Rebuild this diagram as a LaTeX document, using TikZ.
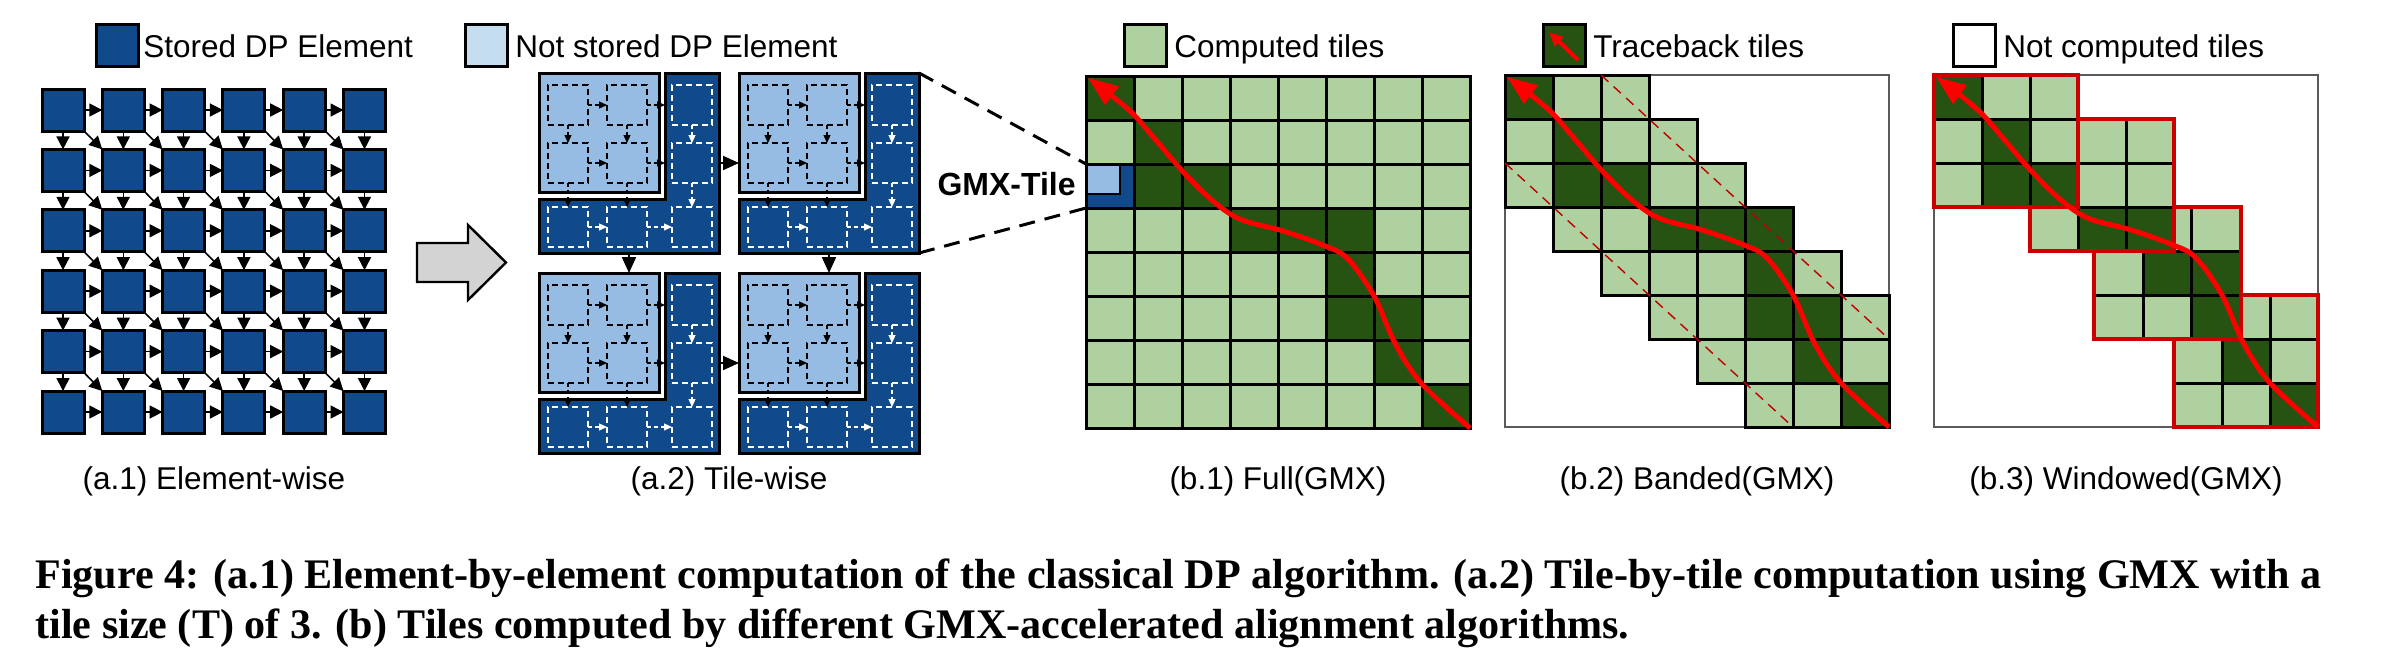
\documentclass[tikz,border=0pt]{standalone}
\usepackage{graphicx}
\usepackage{fontspec}
\setmainfont{Liberation Sans}
\newfontfamily\capfont{Liberation Serif}
\usetikzlibrary{arrows.meta}
\definecolor{dpblue}{RGB}{16,74,138}
\definecolor{tilelight}{RGB}{150,188,227}
\definecolor{legendlight}{RGB}{197,221,241}
\definecolor{lgreen}{RGB}{174,209,159}
\definecolor{dgreen}{RGB}{38,82,18}
\definecolor{winred}{RGB}{204,0,0}
\definecolor{bandred}{RGB}{192,0,0}
\definecolor{arrowgray}{RGB}{211,211,211}
\definecolor{framegray}{RGB}{90,90,90}

\newcommand\gmxtile[3]{%
\begin{scope}[shift={(#1,#2)}]
  \draw[fill=dpblue, line width=1.5pt] (126,0) -- (180,0) -- (180,180) -- (0,180) -- (0,126) -- (126,126) -- cycle;
  \node[lightbox] (#3) at (60,59.5) {};
  \coordinate (#3-L) at (0,90);
  \coordinate (#3-R) at (180,90);
  \coordinate (#3-T) at (90,0);
  \coordinate (#3-B) at (90,180);
  \coordinate (#3-NE) at (180,0);
  \coordinate (#3-SE) at (180,180);
  \foreach \c/\r/\cx/\cy/\col in {0/0/29/32/black, 1/0/88/32/black, 0/1/29/90/black, 1/1/88/90/black,
      2/0/153/32/white, 2/1/153/90/white, 0/2/29/154/white, 1/2/88/154/white, 2/2/153/154/white}
    {\node[tileel, draw=\col] (#3-\c-\r) at (\cx,\cy) {};}
  \draw[tarrow] (#3-0-0.east) -- (#3-1-0.west);
  \draw[tarrow] (#3-0-1.east) -- (#3-1-1.west);
  \draw[tarrow, shorten >=3.5pt] (#3-1-0.east) -- (#3-2-0.west);
  \draw[tarrow, shorten >=3.5pt] (#3-1-1.east) -- (#3-2-1.west);
  \draw[tarrow] (#3-0-0.south) -- (#3-0-1.north);
  \draw[tarrow] (#3-1-0.south) -- (#3-1-1.north);
  \draw[tarrow] (#3-0-1.south) -- (#3-0-2.north);
  \draw[tarrow] (#3-1-1.south) -- (#3-1-2.north);
  \draw[tarrow, white] (#3-2-0.south) -- (#3-2-1.north);
  \draw[tarrow, white] (#3-2-1.south) -- (#3-2-2.north);
  \draw[tarrow, white] (#3-0-2.east) -- (#3-1-2.west);
  \draw[tarrow, white] (#3-1-2.east) -- (#3-2-2.west);
\end{scope}}

\newcommand\tbcurve{%
  \draw[tbline] plot[smooth, tension=0.55] coordinates {(8,8) (7.0,7.0) (6.45,6.1) (6.0,5.0) (5.45,4.15) (4.95,3.85) (4.1,3.52) (3.2,3.25) (2.6,2.8) (2.0,2.15) (1.45,1.45) (0.9,0.78) (0.04,0.04)};}

\newcommand\drawwin[4]{%
  \fill[lgreen] (#1,#2) rectangle ++({3*#3},3);
  \foreach \a/\b in {#4} {\fill[dgreen] ({#1+\a*#3},{#2+\b}) rectangle ++(#3,1);}
  \foreach \k in {1,2} {\draw[line width=1.5pt] ({#1+\k*#3},#2) -- ++(0,3);
                        \draw[line width=1.5pt] (#1,{#2+\k}) -- ++({3*#3},0);}
  \draw[winred, line width=2pt] (#1,#2) rectangle ++({3*#3},3);}

\begin{document}
\begin{tikzpicture}[x=0.5pt, y=-0.5pt,
  elem/.style={rectangle, draw=black, line width=1.5pt, fill=dpblue, minimum size=21pt, inner sep=0pt, outer sep=0pt},
  elarrow/.style={line width=0.8pt, -{Triangle[length=6.5pt,width=6.5pt]}},
  legbox/.style={rectangle, draw=black, line width=1.5pt, minimum size=21pt, inner sep=0pt, outer sep=0pt},
  legtext/.style={anchor=base west, inner sep=0pt, font=\fontsize{15.75}{18}\selectfont},
  subcap/.style={anchor=base, inner sep=0pt, font=\fontsize{15.75}{18}\selectfont},
  lightbox/.style={rectangle, draw=black, line width=1.5pt, fill=tilelight, minimum width=60pt, minimum height=59.5pt, inner sep=0pt, outer sep=0pt},
  tileel/.style={rectangle, line width=0.7pt, dash pattern=on 3pt off 2pt, minimum size=20pt, inner sep=0pt, outer sep=0pt},
  tarrow/.style={line width=0.6pt, dash pattern=on 2pt off 1.5pt, -{Triangle[length=4pt,width=3.5pt]}},
  tilearrow/.style={line width=1pt, -{Triangle[length=8pt,width=7pt]}},
  zoomline/.style={line width=1.5pt, dash pattern=on 8pt off 5pt},
  cellline/.style={line width=1.5pt, line cap=rect},
  tbline/.style={red, line width=2.5pt, -{Triangle[length=15pt,width=11pt]}},
  bandline/.style={bandred, line width=0.7pt, dash pattern=on 5pt off 3.5pt},
  frame/.style={framegray, line width=0.8pt}
]
\useasboundingbox (0,0) rectangle (2394,660);

% ---------- legends ----------
\node[legbox, fill=dpblue] (leg1) at (117.5,45) {};
\node[legtext] (leg1t) at (143,57) {Stored DP Element};
\node[legbox, fill=legendlight] (leg2) at (486,45) {};
\node[legtext] (leg2t) at (515,57) {Not stored DP Element};
\node[legbox, fill=lgreen] (leg3) at (1145.5,45) {};
\node[legtext] (leg3t) at (1174,57) {Computed tiles};
\node[legbox, fill=dgreen] (leg4) at (1564.5,45.5) {};
\coordinate (leg4a) at (1578,60);
\coordinate (leg4b) at (1549,32);
\draw[red, line width=2pt, -{Triangle[length=7pt,width=6pt]}] (leg4a) -- (leg4b);
\node[legtext] (leg4t) at (1593,57) {Traceback tiles};
\node[legbox, fill=white] (leg5) at (1974,45.5) {};
\node[legtext] (leg5t) at (2003,57) {Not computed tiles};

% ---------- (a.1) element-wise ----------
\foreach \i in {0,...,5}{
  \foreach \j in {0,...,5}{
    \node[elem] (e-\i-\j) at ({63+60.3*\i},{110+60.4*\j}) {};
  }}
\foreach \i [evaluate=\i as \ni using int(\i+1)] in {0,...,4}{
  \foreach \j in {0,...,5}{
    \draw[elarrow] (e-\i-\j.east) -- (e-\ni-\j.west);
    \draw[elarrow] (e-\j-\i.south) -- (e-\j-\ni.north);
  }
  \foreach \j [evaluate=\j as \nj using int(\j+1)] in {0,...,4}{
    \draw[elarrow] (e-\i-\j.south east) -- (e-\ni-\nj.north west);
  }}

% ---------- big gray arrow ----------
\draw[fill=arrowgray, line width=1.2pt, line join=miter] (417,243) -- (468,243) -- (468,225) -- (506,262.5) -- (468,300) -- (468,282) -- (417,282) -- cycle;

% ---------- (a.2) tile-wise ----------
\gmxtile{539}{73}{t1}
\gmxtile{739}{73}{t2}
\gmxtile{539}{273}{t3}
\gmxtile{739}{273}{t4}
\draw[tilearrow] (t1-R) -- (t2-L);
\draw[tilearrow] (t3-R) -- (t4-L);
\draw[tilearrow] (t1-B) -- (t3-T);
\draw[tilearrow] (t2-B) -- (t4-T);

% ---------- (b.1) full ----------
\begin{scope}[shift={(1086,76)}]
\begin{scope}[x=24pt, y=-22pt]
  \fill[lgreen] (0,0) rectangle (8,8);
  \foreach \c/\r in {0/0,1/1,1/2,2/2,3/3,4/3,5/3,5/4,5/5,6/5,6/6,7/7}
    {\fill[dgreen] (\c,\r) rectangle ++(1,1);}
  \fill[dpblue] (0,2) rectangle (1,3);
  \draw[fill=tilelight, line width=1pt] (0,2) rectangle (0.71,2.69);
  \foreach \k in {0,...,8} {\draw[cellline] (\k,0) -- (\k,8); \draw[cellline] (0,\k) -- (8,\k);}
  \coordinate (g-NW) at (0,2);
  \coordinate (g-SW) at (0,3);
  \tbcurve
\end{scope}
\end{scope}
\node[anchor=base east, inner sep=0pt, font=\fontsize{16}{18}\selectfont\bfseries] (gmxlabel) at (1076,195) {GMX-Tile};
\draw[zoomline] (t2-NE) -- (g-NW);
\draw[zoomline] (t2-SE) -- (g-SW);

% ---------- (b.2) banded ----------
\begin{scope}[shift={(1505,75)}]
\begin{scope}[x=24pt, y=-22pt]
  \draw[frame] (0,0) rectangle (8,8);
  \foreach \r in {0,...,7}{
    \pgfmathtruncatemacro\cmin{max(0,\r-2)}
    \pgfmathtruncatemacro\cmax{min(7,\r+2)}
    \foreach \c in {\cmin,...,\cmax} {\fill[lgreen] (\c,\r) rectangle ++(1,1);}
  }
  \foreach \c/\r in {0/0,1/1,1/2,2/2,3/3,4/3,5/3,5/4,5/5,6/5,6/6,7/7}
    {\fill[dgreen] (\c,\r) rectangle ++(1,1);}
  \foreach \r in {0,...,7}{
    \pgfmathtruncatemacro\cmin{max(0,\r-2)}
    \pgfmathtruncatemacro\cmax{min(7,\r+2)}
    \foreach \c in {\cmin,...,\cmax} {\draw[cellline] (\c,\r) rectangle ++(1,1);}
  }
  \draw[bandline] (0,2) -- (6,8);
  \draw[bandline] (2,0) -- (8,6);
  \tbcurve
\end{scope}
\end{scope}

% ---------- (b.3) windowed ----------
\begin{scope}[shift={(1934,75)}]
\begin{scope}[x=24pt, y=-22pt]
  \draw[frame] (0,0) rectangle (8,8);
  \drawwin{5}{5}{1}{1/1,2/2}
  \drawwin{3.34}{3}{1.017}{1/1,2/1,2/2}
  \drawwin{2}{1}{1}{1/2,2/2}
  \drawwin{0}{0}{1}{0/0,1/1,1/2,2/2}
  \tbcurve
\end{scope}
\end{scope}

% ---------- sub-captions ----------
\node[subcap] (c1) at (214,489) {(a.1) Element-wise};
\node[subcap] (c2) at (729,489) {(a.2) Tile-wise};
\node[subcap] (c3) at (1278,489) {(b.1) Full(GMX)};
\node[subcap] (c4) at (1697,489) {(b.2) Banded(GMX)};
\node[subcap] (c5) at (2126,489) {(b.3) Windowed(GMX)};

% ---------- figure caption ----------
\node[anchor=base west, inner sep=0pt] (cap) at (35,588) {\resizebox{1143pt}{!}{\capfont\bfseries\fontsize{17.5}{21}\selectfont
  \begin{tabular}[t]{@{}l@{}}
  Figure 4: (a.1) Element-by-element computation of the classical DP algorithm. (a.2) Tile-by-tile computation using GMX with a\\
  tile size (T) of 3. (b) Tiles computed by different GMX-accelerated alignment algorithms.
  \end{tabular}}};
\end{tikzpicture}
\end{document}
